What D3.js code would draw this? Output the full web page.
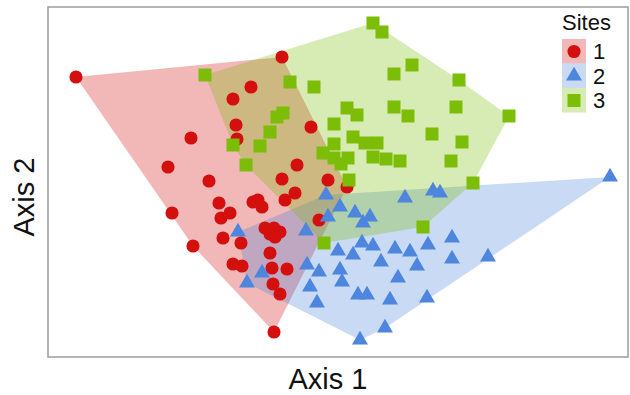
<!DOCTYPE html>
<html>
<script src="https://d3js.org/d3.v7.min.js"></script>
<head>
<style>
  body {margin: 0; background: #fff; font-family: "Liberation Sans", Arial, sans-serif;}
  .title {font-size: 29px; fill: #111;}
  .legend text {font-size: 22px; fill: #111;}
</style>
</head>
<body>
<svg id="chart" width="630" height="395"></svg>
<script>
// ordination scores, one array per site
var site1 = [[-2.62,1.05],[-0.56,1.25],[-0.87,0.95],[-1.05,0.83],[-1.02,0.57],[-1.01,0.43],[-1.47,0.44],
  [-0.27,0.55],[-1.70,0.15],[-1.29,0.01],[-0.41,0.17],[-0.56,0.03],[-0.10,0.02],[0.09,-0.05],[-0.43,-0.11],
  [-0.53,-0.18],[-1.19,-0.21],[-1.08,-0.31],[-1.17,-0.36],[-0.85,-0.20],[-0.80,-0.18],[-0.76,-0.25],
  [-1.66,-0.31],[-1.45,-0.64],[-1.15,-0.56],[-0.97,-0.61],[-0.19,-0.38],[-0.73,-0.46],[-0.64,-0.46],
  [-0.58,-0.50],[-0.68,-0.52],[-0.63,-0.55],[-0.68,-0.71],[-1.05,-0.82],[-0.96,-0.84],[-0.66,-0.86],
  [-0.51,-0.87],[-0.65,-1.02],[-0.58,-1.12],[-0.64,-1.50]];
var site2 = [[-1.00,-0.50],[-0.12,-0.13],[0.02,-0.25],[0.17,-0.31],[0.32,-0.35],[0.25,-0.41],[-0.10,-0.35],
  [0.67,-0.16],[0.95,-0.09],[1.02,-0.11],[2.72,0.05],[-0.32,-0.49],[0.90,-0.63],[1.14,-0.56],[0.00,-0.69],
  [0.24,-0.61],[0.15,-0.73],[0.35,-0.64],[0.57,-0.67],[0.72,-0.70],[0.43,-0.80],[0.79,-0.84],[1.14,-0.77],
  [1.50,-0.75],[-0.31,-0.83],[-0.19,-0.90],[0.02,-0.88],[0.04,-1.00],[0.60,-0.96],[-0.28,-1.05],
  [0.20,-1.13],[0.29,-1.13],[0.52,-1.18],[0.89,-1.16],[-0.21,-1.21],[0.47,-1.46],[0.22,-1.58],
  [-0.76,-0.91],[-0.91,-1.01]];
var site3 = [[-1.33,1.07],[0.35,1.59],[0.44,1.50],[0.74,1.17],[0.56,1.08],[1.21,1.02],[-0.48,1.00],
  [-0.24,0.95],[0.09,0.74],[0.19,0.67],[0.56,0.75],[0.70,0.66],[1.18,0.75],[1.71,0.66],[-0.55,0.69],
  [-0.61,0.65],[-0.04,0.58],[-0.68,0.50],[0.94,0.48],[0.15,0.45],[0.27,0.39],[0.39,0.39],[-0.04,0.38],
  [-1.05,0.37],[-0.78,0.36],[1.24,0.40],[-0.15,0.29],[-0.04,0.24],[0.10,0.24],[0.35,0.25],[0.48,0.23],
  [0.62,0.21],[1.13,0.21],[0.03,0.18],[-0.92,0.17],[0.11,0.02],[1.35,-0.01],[0.85,-0.45],[-0.14,-0.61]];

var siteNames = ["1", "2", "3"];
var siteColors = ["#d4100f", "#4d86dc", "#7cbd08"];
var siteShapes = [d3.symbolCircle, d3.symbolTriangle, d3.symbolSquare];
var siteSizes = [135, 110, 169];

var sites = [site1, site2, site3].map(function(pts, i) {
  return {name: siteNames[i], color: siteColors[i], shape: siteShapes[i], size: siteSizes[i], points: pts};
});

var svg = d3.select("#chart"),
    panel = {left: 48, top: 7, right: 628, bottom: 357};

var x = d3.scaleLinear().domain([-2.9, 2.9]).range([panel.left, panel.right]);
var y = d3.scaleLinear().domain([-1.75, 1.75]).range([panel.bottom, panel.top]);

// hulls
svg.append("g").selectAll("path")
  .data(sites)
  .enter().append("path")
  .attr("d", function(d) {
    var hull = d3.polygonHull(d.points.map(function(p) { return [x(p[0]), y(p[1])]; }));
    return "M" + hull.join("L") + "Z";
  })
  .attr("fill", function(d) { return d.color; })
  .attr("fill-opacity", 0.3);

// points
var groups = svg.append("g").selectAll("g")
  .data(sites)
  .enter().append("g");

groups.selectAll("path")
  .data(function(d) { return d.points.map(function(p) { return {p: p, s: d}; }); })
  .enter().append("path")
  .attr("transform", function(d) { return "translate(" + x(d.p[0]) + "," + y(d.p[1]) + ")"; })
  .attr("d", function(d) { return d3.symbol().type(d.s.shape).size(d.s.size)(); })
  .attr("fill", function(d) { return d.s.color; });

// panel border
svg.append("rect")
  .attr("x", panel.left)
  .attr("y", panel.top)
  .attr("width", panel.right - panel.left)
  .attr("height", panel.bottom - panel.top)
  .attr("fill", "none")
  .attr("stroke", "#9c9c9c")
  .attr("stroke-width", 1.5);

// axis titles
svg.append("text")
  .attr("class", "title")
  .attr("x", 328)
  .attr("y", 389)
  .attr("text-anchor", "middle")
  .text("Axis 1");

svg.append("text")
  .attr("class", "title")
  .attr("transform", "translate(34,197) rotate(-90)")
  .attr("text-anchor", "middle")
  .text("Axis 2");

// legend
var legend = svg.append("g")
  .attr("class", "legend")
  .attr("transform", "translate(562,39)");

legend.append("text")
  .attr("x", 0)
  .attr("y", -9)
  .text("Sites");

var item = legend.selectAll("g")
  .data(sites)
  .enter().append("g")
  .attr("transform", function(d, i) { return "translate(0," + i * 24.5 + ")"; });

item.append("rect")
  .attr("width", 24)
  .attr("height", 24.5)
  .attr("fill", function(d) { return d.color; })
  .attr("fill-opacity", 0.3);

item.append("path")
  .attr("transform", "translate(12,12.5)")
  .attr("d", function(d) { return d3.symbol().type(d.shape).size(d.size)(); })
  .attr("fill", function(d) { return d.color; });

item.append("text")
  .attr("x", 31)
  .attr("y", 20)
  .text(function(d) { return d.name; });
</script>
</body>
</html>
